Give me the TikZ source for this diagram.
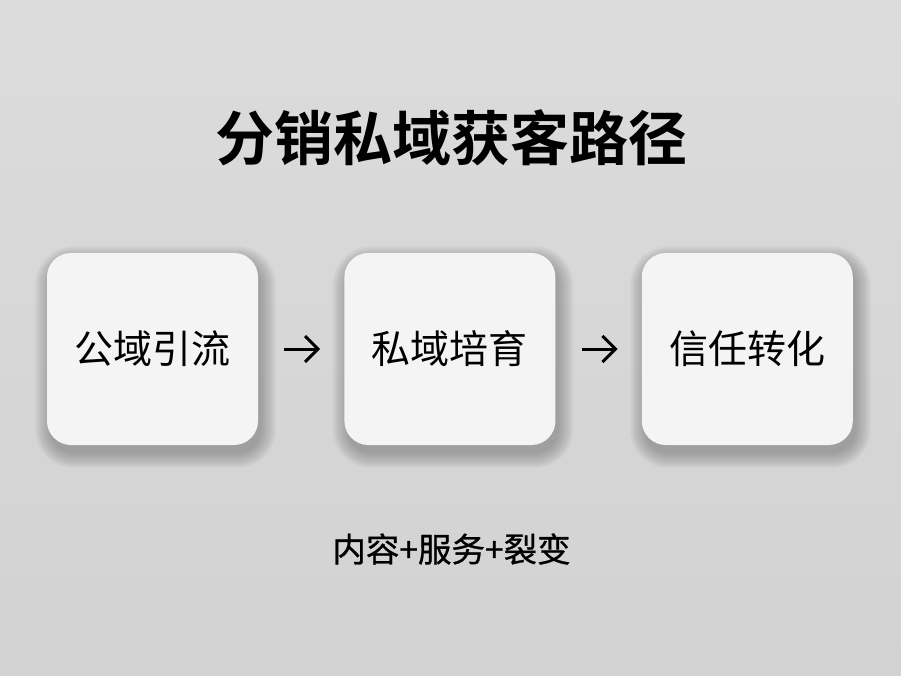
\documentclass[tikz,border=0pt]{standalone}
\usepackage{fontspec}
\newfontfamily\cjk{Noto Sans CJK SC}
\newfontfamily\cjkmed[FakeBold=0.8]{Noto Sans CJK SC}
\newfontfamily\cjkbold{Noto Sans CJK SC Bold}
\usetikzlibrary{positioning,arrows.meta,backgrounds}
\definecolor{bgtop}{HTML}{DCDCDC}
\definecolor{bgbot}{HTML}{D2D2D2}
\definecolor{cardfill}{HTML}{F4F4F4}
\tikzset{
  card/.style={rounded corners=24pt,fill=cardfill,minimum width=211pt,minimum height=192pt,
    inner sep=0pt,font=\cjk\fontsize{39}{44}\selectfont},
  flow/.style={line width=3pt,-{Straight Barb[length=13pt,width=26pt,line width=3pt]},shorten <=26pt,shorten >=24pt}
}
% soft shadow behind a card
\newcommand{\cardshadow}[1]{%
  \foreach \k in {0,...,15}{%
    \fill[black,opacity=0.015,rounded corners={24pt+\k pt}]
      ([xshift=3pt-\k pt,yshift=-8pt+\k pt]#1.north west) rectangle ([xshift=3pt+\k pt,yshift=-8pt-\k pt]#1.south east);
  }}
\begin{document}
\begin{tikzpicture}[x=1pt,y=-1pt]
				% page
				\useasboundingbox (0,0) rectangle (901,675);
				% title
				\node[font=\cjkbold\fontsize{59}{66}\selectfont] (title) at (451,138) {分销私域获客路径};
				% the three stages
				\node[card] (gongyu) at (152.5,349) {公域引流};
				\node[card,right=86pt of gongyu] (siyu) {私域培育};
				\node[card,right=86pt of siyu] (xinren) {信任转化};
				\draw[flow] (gongyu) -- (siyu);
				\draw[flow] (siyu) -- (xinren);
				% means
				\node[font=\cjkmed\fontsize{33.5}{38}\selectfont] (means) at (451.5,549) {内容+服务+裂变};
				% background and shadows
				\begin{scope}[on background layer]
					\shade[top color=bgtop,bottom color=bgbot] (0,0) rectangle (901,675);
					\cardshadow{gongyu}
					\cardshadow{siyu}
					\cardshadow{xinren}
				\end{scope}
			\end{tikzpicture}
\end{document}
